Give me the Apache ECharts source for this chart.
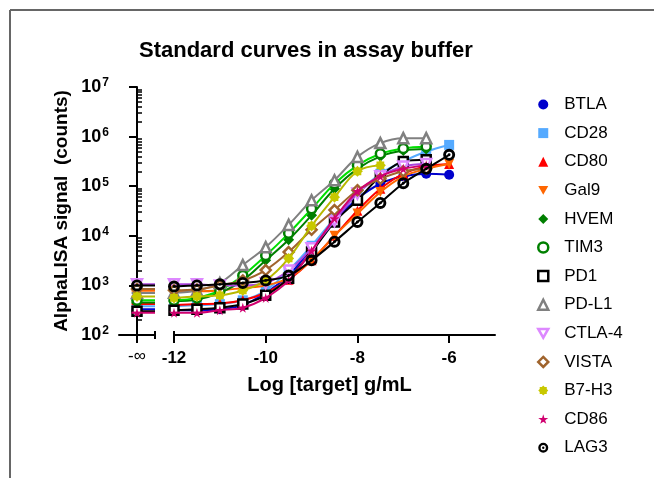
<!DOCTYPE html>
<html>
<head>
<meta charset="utf-8">
<script src="https://cdn.jsdelivr.net/npm/echarts@6/dist/echarts.min.js"></script>
<style>
    html, body { margin: 0; padding: 0; background: #fff; }
    #chart { width: 654px; height: 478px; }
</style>
</head>
<body>
<div id="chart"></div>
<script>
// log concentration (g/mL) of the dilution points
var xs = [-12, -11.5, -11, -10.5, -10, -9.5, -9, -8.5, -8, -7.5, -7, -6.5, -6]
var names = ['BTLA', 'CD28', 'CD80', 'Gal9', 'HVEM', 'TIM3', 'PD1', 'PD-L1', 'CTLA-4', 'VISTA', 'B7-H3', 'CD86', 'LAG3']

// counts
var btla = [316, 316, 330, 400, 710, 1580, 5600, 20000, 56000, 112000, 158000, 178000, 170000]
var cd28 = [380, 400, 420, 500, 790, 2000, 6300, 22400, 71000, 178000, 316000, 500000, 680000]
var cd80 = [400, 420, 430, 500, 710, 1300, 3200, 10000, 32000, 89000, 178000, 250000, 280000]
var gal9 = [760, 760, 790, 890, 1000, 1400, 3200, 10000, 28000, 76000, 158000, 224000, 280000]
var hvem = [480, 520, 710, 1260, 3200, 8300, 26000, 89000, 224000, 400000, 525000, 560000, null]
var tim3 = [500, 560, 790, 1580, 4000, 11200, 35000, 112000, 263000, 450000, 575000, 630000, null]
var pd1 = [316, 330, 355, 420, 630, 1400, 4700, 19000, 52000, 158000, 316000, 340000, null]
var pdl1 = [710, 790, 1120, 2570, 5900, 16600, 52000, 132000, 390000, 740000, 930000, 930000, null]
var ctla4 = [1050, 1050, 1000, 1000, 1120, 2000, 5600, 20000, 71000, 158000, 250000, 280000, null]
var vista = [800, 830, 1000, 1260, 2040, 4700, 13200, 33000, 83000, 141000, 200000, 224000, null]
var b7h3 = [560, 600, 630, 790, 1260, 3500, 15800, 60000, 200000, 263000, null, null, null]
var cd86 = [280, 280, 316, 355, 560, 1260, 5000, 22400, 79000, 158000, 224000, 263000, null]
var lag3 = [950, 1000, 1050, 1120, 1260, 1580, 3200, 7600, 19000, 46000, 115000, 224000, 430000]
// blank wells (plotted at -infinity)
var blanks = [330, 380, 420, 780, 450, 500, 300, 700, 1050, 850, 600, 280, 1000]

var values = [btla, cd28, cd80, gal9, hvem, tim3, pd1, pdl1, ctla4, vista, b7h3, cd86, lag3]
var xTicks = [-12, -10, -8, -6]
var yMinor = [200, 300, 400, 500, 600, 700, 800, 900,
    2000, 3000, 4000, 5000, 6000, 7000, 8000, 9000,
    20000, 30000, 40000, 50000, 60000, 70000, 80000, 90000,
    200000, 300000, 400000, 500000, 600000, 700000, 800000, 900000,
    2000000, 3000000, 4000000, 5000000, 6000000, 7000000, 8000000, 9000000]

var star5 = 'path://M50,0 L61,35 L98,35 L68,57 L79,91 L50,70 L21,91 L32,57 L2,35 L39,35 Z'
var flower = 'path://M50,0 L64.5,14.9 L85.4,14.6 L85.1,35.5 L100,50 L85.1,64.5 L85.4,85.4 L64.5,85.1 L50,100 L35.5,85.1 L14.6,85.4 L14.9,64.5 L0,50 L14.9,35.5 L14.6,14.6 L35.5,14.9 Z'
var downTri = 'path://M0,0 L100,0 L50,87 Z'
// ring with a dot in the middle
var bullseye = 'path://M50,0 A50,50 0 1,1 50,100 A50,50 0 1,1 50,0 Z M50,24 A26,26 0 1,0 50,76 A26,26 0 1,0 50,24 Z M50,38 A12,12 0 1,1 50,62 A12,12 0 1,1 50,38 Z'

// marker / line styles
var colors = ['#0000CC', '#55AAFF', '#FF0000', '#FF6600', '#007F00', '#008000', '#000000', '#808080', '#DD88FF', '#A0642D', '#C8C800', '#D0006F', '#000000']
var lineColors = ['#0000CC', '#55AAFF', '#FF0000', '#FF6600', '#007F00', '#00E000', '#000000', '#808080', '#AA44DD', '#A0642D', '#B8B800', '#D0006F', '#000000']
var symbols = ['circle', 'rect', 'triangle', downTri, 'diamond', 'circle', 'rect', 'triangle', downTri, 'diamond', flower, star5, bullseye]
var hollow = [false, false, false, false, false, true, true, true, true, true, false, false, false]
var sizes = [10, 10, 10, 10, 11, 9, 9, 10, 10, 10, 11, 10, 12]

var font = "'Liberation Sans', Arial, sans-serif"

function itemStyleOf(i) {
    if (hollow[i]) {
        return { color: '#fff', borderColor: colors[i], borderWidth: 2.5 }
    }
    return { color: colors[i], borderWidth: 0 }
}

var series = []
names.forEach(function (name, i) {
    var data = []
    xs.forEach(function (x, j) {
        if (values[i][j] != null) data.push([x, values[i][j]])
    })
    series.push({
        name: name,
        type: 'line',
        xAxisIndex: 3,
        yAxisIndex: 2,
        smooth: 0.35,
        data: data,
        symbol: symbols[i],
        symbolSize: sizes[i],
        showSymbol: true,
        itemStyle: itemStyleOf(i),
        lineStyle: { color: lineColors[i], width: 2 },
        emphasis: { disabled: true },
        z: 2 + i
    })
})
// short baseline pieces in the -infinity segment
names.forEach(function (name, i) {
    series.push({
        name: name,
        type: 'line',
        xAxisIndex: 0,
        yAxisIndex: 0,
        data: [
            { value: [-0.3, blanks[i]], symbol: 'none' },
            [0, blanks[i]],
            { value: [1, blanks[i]], symbol: 'none' }
        ],
        symbol: symbols[i],
        symbolSize: sizes[i],
        itemStyle: itemStyleOf(i),
        lineStyle: { color: lineColors[i], width: 2 },
        emphasis: { disabled: true },
        z: 2 + i
    })
})

var legendData = names.map(function (name, i) {
    return {
        name: name,
        icon: symbols[i],
        itemStyle: itemStyleOf(i)
    }
})

var myChart = echarts.init(document.getElementById('chart'))
var option = {
    animation: false,
    title: {
        text: 'Standard curves in assay buffer',
        left: 134,
        top: 35,
        textStyle: { fontFamily: font, fontSize: 22, fontWeight: 'bold', color: '#000' }
    },
    legend: {
        orient: 'vertical',
        left: 532,
        top: 91,
        itemWidth: 10,
        itemHeight: 10,
        itemGap: 11.6,
        selectedMode: false,
        data: legendData,
        textStyle: { fontFamily: font, fontSize: 17, color: '#000', padding: [0, 0, 0, 11] }
    },
    graphic: [
        { type: 'line', shape: { x1: 10, y1: 10, x2: 654, y2: 10 }, style: { stroke: '#666', lineWidth: 2 } },
        { type: 'line', shape: { x1: 10, y1: 10, x2: 10, y2: 478 }, style: { stroke: '#666', lineWidth: 2 } }
    ],
    grid: [
        { left: 119, top: 87, width: 36, height: 248 },
        { left: 174, top: 87, width: 321, height: 248 }
    ],
    xAxis: [
        {
            gridIndex: 0, type: 'value', min: -1, max: 1, position: 'bottom',
            axisLine: { lineStyle: { color: '#000', width: 2 } },
            axisTick: { customValues: [0], length: 8, lineStyle: { color: '#000', width: 2 } },
            axisLabel: {
                customValues: [0], margin: 13, color: '#000', fontFamily: font, fontSize: 17,
                formatter: function () { return '-∞' }
            },
            splitLine: { show: false }
        },
        {
            gridIndex: 0, type: 'value', min: -1, max: 1, position: 'bottom',
            axisLine: { show: false },
            axisTick: { customValues: [1], length: 4, lineStyle: { color: '#000', width: 2 } },
            axisLabel: { show: false },
            splitLine: { show: false }
        },
        {
            gridIndex: 0, type: 'value', min: -1, max: 1, position: 'bottom',
            axisLine: { show: false },
            axisTick: { customValues: [1], inside: true, length: 4, lineStyle: { color: '#000', width: 2 } },
            axisLabel: { show: false },
            splitLine: { show: false }
        },
        {
            gridIndex: 1, type: 'value', min: -12, max: -5, interval: 2, position: 'bottom',
            name: 'Log [target] g/mL',
            nameLocation: 'middle',
            nameGap: 40,
            nameTextStyle: { fontFamily: font, fontSize: 20, fontWeight: 'bold', color: '#000', padding: [0, 10, 0, 0] },
            axisLine: { lineStyle: { color: '#000', width: 2 } },
            axisTick: { customValues: xTicks, length: 8, lineStyle: { color: '#000', width: 2 } },
            axisLabel: {
                customValues: xTicks, margin: 15, color: '#000', fontFamily: font, fontSize: 17, fontWeight: 'bold'
            },
            splitLine: { show: false }
        },
        {
            gridIndex: 1, type: 'value', min: -12, max: -5, position: 'bottom',
            axisLine: { show: false },
            axisTick: { customValues: [-12], inside: true, length: 4, lineStyle: { color: '#000', width: 2 } },
            axisLabel: { show: false },
            splitLine: { show: false }
        }
    ],
    yAxis: [
        {
            gridIndex: 0, type: 'log', min: 100, max: 10000000, logBase: 10,
            name: 'AlphaLISA signal  (counts)',
            nameLocation: 'middle',
            nameGap: 48,
            nameMoveOverlap: false,
            nameRotate: 90,
            nameTextStyle: { fontFamily: font, fontSize: 19, fontWeight: 'bold', color: '#000' },
            axisLine: { lineStyle: { color: '#000', width: 2 } },
            axisTick: { length: 8, lineStyle: { color: '#000', width: 2 } },
            axisLabel: {
                margin: 10,
                formatter: function (v) {
                    return '{b|10}{s|' + Math.round(Math.log10(v)) + '}'
                },
                rich: {
                    b: { fontFamily: font, fontSize: 18, fontWeight: 'bold', color: '#000', lineHeight: 20 },
                    s: { fontFamily: font, fontSize: 12, fontWeight: 'bold', color: '#000', lineHeight: 12, verticalAlign: 'top', padding: [0, 0, 0, 1] }
                }
            },
            splitLine: { show: false }
        },
        {
            gridIndex: 0, type: 'log', min: 100, max: 10000000, logBase: 10,
            axisLine: { show: false },
            axisTick: { customValues: yMinor, length: 5, lineStyle: { color: '#000', width: 1.5 } },
            axisLabel: { show: false },
            splitLine: { show: false }
        },
        {
            gridIndex: 1, type: 'log', min: 100, max: 10000000, logBase: 10,
            show: false,
            splitLine: { show: false }
        }
    ],
    series: series
}
myChart.setOption(option)
</script>
</body>
</html>
